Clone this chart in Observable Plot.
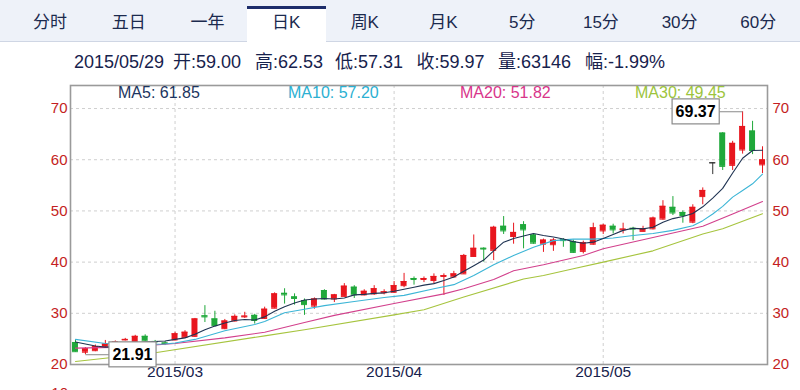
<!DOCTYPE html>
<html><head><meta charset="utf-8">
<script src="https://cdn.jsdelivr.net/npm/d3@7"></script>
<script src="https://cdn.jsdelivr.net/npm/@observablehq/plot@0.6"></script>
<style>
html,body{margin:0;padding:0;width:800px;height:390px;overflow:hidden;background:#fff;
  font-family:"Liberation Sans",Arial,"Noto Sans CJK SC",sans-serif;}
#tabs{position:absolute;left:0;top:0;width:800px;height:41px;background:#eef2f9;border-bottom:1px solid #cfd6e4;}
.tab{position:absolute;top:14px;width:80px;text-align:center;font-size:17px;line-height:17px;color:#1b2a4e;}
#sel{position:absolute;left:247px;top:6px;width:79px;height:36px;background:#fff;border-top:3px solid #1d2d6b;box-sizing:border-box;}
.info{position:absolute;top:53px;font-size:18px;line-height:18px;color:#17224d;white-space:pre;}
.leg{position:absolute;top:85px;font-size:16px;line-height:16px;white-space:pre;}
#chart{position:absolute;left:0;top:78px;}
#ten{position:absolute;top:385px;left:40px;width:28px;text-align:right;font-size:15px;line-height:15px;color:#c41e22;}
</style></head>
<body>
<div id="tabs"><div id="sel"></div></div>
<div id="info"></div>
<div id="chart"></div>
<div id="legend"></div>
<div id="ten">10</div>
<script>
// ---- data ----
const tabs = ["分时","五日","一年","日K","周K","月K","5分","15分","30分","60分"];
const infoItems = ["2015/05/29","开:59.00","高:62.53","低:57.31","收:59.97","量:63146","幅:-1.99%"];
const xTickIdx = [10, 32, 53];
const xTickLabels = ["2015/03","2015/04","2015/05"];
const yTicks = [20, 30, 40, 50, 60, 70];

const opens = [24.3,22.4,22.7,23.4,24.3,24.8,24.5,25.5,24.5,24.2,24.8,25.3,25.5,29.5,28.9,27.0,28.5,29.3,29.6,29.0,
  31.0,33.9,33.2,32.5,31.4,34.45,32.8,33.3,35.1,33.6,33.8,34.0,34.1,35.4,36.8,36.6,36.4,37.2,37.1,37.7,
  41.1,42.7,42.3,47.0,45.0,47.3,45.3,43.5,43.4,44.4,44.0,42.1,43.5,46.1,47.0,46.3,46.6,46.0,46.5,48.4,
  50.7,49.7,47.8,52.8,59.4,65.2,58.9,61.9,65.6,59.00];
const highs = [24.8,23.3,23.8,24.7,24.6,25.1,25.7,25.8,24.7,24.5,26.3,26.6,29.0,31.5,30.4,28.8,29.7,30.2,29.8,31.2,
  34.0,34.8,33.8,32.8,33.0,34.6,33.7,35.8,35.4,34.6,35.4,34.6,36.2,37.8,37.1,37.1,37.7,37.7,38.2,41.5,
  45.3,42.8,47.0,48.9,47.6,47.9,45.5,44.5,44.6,44.6,44.3,44.1,47.6,47.4,47.4,47.6,46.8,47.0,48.8,52.0,
  52.8,50.0,51.2,54.5,59.4,65.3,63.6,69.37,67.5,62.53];
const lows = [22.4,21.91,22.5,23.3,24.1,24.6,24.4,24.5,24.2,23.7,24.6,25.1,25.3,28.2,27.4,26.8,28.3,29.0,27.9,28.8,
  30.9,31.8,31.6,29.6,30.8,32.6,32.1,33.2,32.9,33.4,33.5,33.6,33.9,35.0,35.5,36.0,35.7,33.5,36.9,37.6,
  41.0,40.0,40.3,45.4,43.5,42.6,43.5,41.9,42.1,42.9,41.7,41.6,43.3,45.4,45.5,45.5,44.2,45.9,46.3,48.2,
  49.1,47.6,47.5,51.2,57.1,57.9,57.9,61.1,61.0,57.31];
const closes = [22.5,23.1,23.5,24.0,24.4,24.9,25.5,24.6,24.4,24.1,26.0,26.3,28.9,29.3,27.6,28.5,29.4,29.45,28.6,30.8,
  33.8,33.6,32.9,31.7,32.8,32.8,33.6,35.3,33.6,34.3,34.8,34.2,35.4,36.2,36.6,36.8,37.2,37.35,37.7,41.3,
  42.7,42.55,46.8,46.1,45.8,46.3,43.7,44.3,44.3,44.2,41.9,43.8,46.7,47.2,46.3,46.45,46.45,46.5,48.6,50.9,
  49.6,49.1,50.7,54.0,59.4,58.7,63.2,66.5,61.8,59.97];

// moving averages
const ma5 = [24.4,24.0,23.6,23.4,23.5,23.7,24.2,24.4,24.5,24.6,24.9,25.2,25.9,26.8,27.5,28.1,28.6,28.8,28.7,29.3,
  30.4,31.3,32.0,32.6,32.8,32.9,32.8,33.0,33.6,33.7,33.9,34.0,34.3,34.7,35.1,35.5,35.8,36.4,37.1,38.2,
  39.3,40.4,42.2,43.9,44.6,45.1,45.6,45.2,44.9,44.5,44.0,43.7,43.9,44.6,45.4,46.2,46.6,46.5,46.8,47.8,
  48.5,48.9,49.5,50.8,52.5,54.4,57.4,60.3,61.8,61.85];
const ma10Idx = [0,3,6,9,10,12,15,18,19,21,23,25,28,31,33,36,38,40,42,44,46,48,50,52,54,56,58,60,62,63,64,65,66,67,68,69];
const ma10 = [24.9,24.1,23.9,24.0,24.2,24.9,26.6,27.8,28.4,30.1,30.8,31.5,32.3,33.1,33.5,34.8,35.6,37.4,39.5,41.3,42.9,44.2,44.5,44.5,44.7,45.2,45.6,46.2,47.1,48.1,49.4,50.9,52.7,54.0,55.3,57.2];
const ma20Idx = [0,5,10,15,19,23,26,32,37,39,42,44,47,51,53,58,63,66,69];
const ma20 = [23.2,23.4,24.1,25.2,26.3,28.2,29.6,31.9,33.8,34.8,36.6,38.3,39.5,41.3,42.6,44.8,47.0,49.4,51.82];
const ma30Idx = [0,8,19,23,32,35,39,45,47,50,53,58,63,65,69];
const ma30 = [20.6,22.3,25.6,26.8,29.7,30.7,33.2,36.7,37.4,38.7,40.0,42.2,45.5,46.5,49.45];

const legendNames = ["MA5","MA10","MA20","MA30"];
const legendValues = ["61.85","57.20","51.82","49.45"];
const lineColors = ["#1f3352","#3cb5d6","#d2408c","#a6c43e"];
const legendColors = ["#1c3560","#2bb0d2","#d8358a","#9cc43c"];

// ---- html parts ----
const tabsEl = document.getElementById("tabs");
tabs.forEach((t,i)=>{const d=document.createElement("div");d.className="tab";d.textContent=t;
  d.style.left=(10+78.7*i)+"px";tabsEl.appendChild(d);});
const infoLeft=[74,173,255,335,416.5,498,585];
const infoEl=document.getElementById("info");
infoItems.forEach((t,i)=>{const s=document.createElement("div");s.className="info";s.textContent=t;s.style.left=infoLeft[i]+"px";infoEl.appendChild(s);});
const legLeft=[118,288,460,635];
const legEl=document.getElementById("legend");
legendNames.forEach((n,i)=>{const s=document.createElement("div");s.className="leg";s.textContent=n+": "+legendValues[i];
  s.style.left=legLeft[i]+"px";s.style.color=legendColors[i];legEl.appendChild(s);});

// ---- chart ----
const candles = opens.map((o,i)=>({i,o,h:highs[i],l:lows[i],c:closes[i]}));
const col = d => d.c > d.o ? "#e8161e" : d.c < d.o ? "#1fa83a" : "#333333";
const pts = (idx, vals) => vals.map((v,k)=>({i: idx[k], v}));
const ma5Data = ma5.map((v,i)=>({i,v}));
const lo = candles.reduce((a,b)=>b.l<a.l?b:a);
const hi = candles.reduce((a,b)=>b.h>a.h?b:a);
const hw = 0.3;
const OFF = 47;

const chart = Plot.plot({
  width: 800, height: 312,
  marginTop: 7, marginBottom: 26, marginLeft: 70, marginRight: 33,
  x: {type: "linear", domain: [-0.5, candles.length - 0.5], axis: null},
  y: {domain: [20, 74.5], axis: null},
  style: {fontFamily: "Liberation Sans, Arial, sans-serif", background: "transparent", overflow: "visible"},
  marks: [
    Plot.ruleY(yTicks.slice(1), {stroke: "#cfcfcf", strokeDasharray: "3,3"}),
    Plot.ruleX(xTickIdx, {stroke: "#cfcfcf", strokeDasharray: "3,3"}),
    Plot.ruleX(candles, {x: "i", y1: "l", y2: "h", stroke: col}),
    Plot.rect(candles, {x1: d=>d.i-hw, x2: d=>d.i+hw, y1: "o", y2: "c", fill: col}),
    Plot.ruleY(candles, {x1: d=>d.i-hw, x2: d=>d.i+hw, y: "o", stroke: col}),
    Plot.ruleY(candles, {x1: d=>d.i-hw, x2: d=>d.i+hw, y: "c", stroke: col}),
    Plot.line(pts(ma30Idx, ma30), {x: "i", y: "v", stroke: lineColors[3], strokeWidth: 1.1}),
    Plot.line(pts(ma20Idx, ma20), {x: "i", y: "v", stroke: lineColors[2], strokeWidth: 1.1}),
    Plot.line(pts(ma10Idx, ma10), {x: "i", y: "v", stroke: lineColors[1], strokeWidth: 1.1}),
    Plot.line(ma5Data, {x: "i", y: "v", stroke: lineColors[0], strokeWidth: 1.1}),
    Plot.frame({stroke: "#9a9a9a", strokeWidth: 1.6}),
    Plot.text(yTicks, {y: d=>d, frameAnchor: "left", dx: -3, textAnchor: "end", text: d=>String(d), fill: "#c41e22", fontSize: 15}),
    Plot.text(yTicks, {y: d=>d, frameAnchor: "right", dx: 5, textAnchor: "start", text: d=>String(d), fill: "#c41e22", fontSize: 15}),
    Plot.text(xTickIdx, {x: d=>d, frameAnchor: "bottom", dy: 12, text: (d,k)=>xTickLabels[k], fill: "#17224d", fontSize: 15.5}),
    Plot.text([lo], {x: "i", y: "l", dx: OFF, text: d=>d.l.toFixed(2), fill: "#000", fontSize: 16, fontWeight: "bold"}),
    Plot.text([hi], {x: "i", y: "h", dx: -OFF, text: d=>d.h.toFixed(2), fill: "#000", fontSize: 16, fontWeight: "bold"})
  ]
});
document.getElementById("chart").appendChild(chart);

// boxes and connectors for the min / max labels (in the text's own coordinates)
function boxLabel(label, side) {
  const t = Array.from(chart.querySelectorAll("text")).find(e => e.textContent === label);
  if (!t) return;
  const b = t.getBBox();
  const tr = t.getAttribute("transform") || "";
  const padX = 3.5, w = b.width + 2*padX, h = 25;
  const cx = b.x + b.width/2, cy = b.y + b.height/2;
  const ns = "http://www.w3.org/2000/svg";
  const r = document.createElementNS(ns, "rect");
  r.setAttribute("x", cx - w/2); r.setAttribute("y", cy - h/2);
  r.setAttribute("width", w); r.setAttribute("height", h);
  r.setAttribute("fill", "#fff"); r.setAttribute("stroke", "#8a8a8a"); r.setAttribute("stroke-width", 1.2);
  r.setAttribute("transform", tr);
  const ln = document.createElementNS(ns, "line");
  ln.setAttribute("x1", -side * OFF); ln.setAttribute("x2", side > 0 ? cx - w/2 : cx + w/2);
  ln.setAttribute("y1", 0); ln.setAttribute("y2", 0);
  ln.setAttribute("stroke", "#8a8a8a"); ln.setAttribute("stroke-width", 1);
  ln.setAttribute("transform", tr);
  t.parentNode.insertBefore(ln, t);
  t.parentNode.insertBefore(r, t);
}
boxLabel(lo.l.toFixed(2), 1);
boxLabel(hi.h.toFixed(2), -1);
</script>
</body></html>
